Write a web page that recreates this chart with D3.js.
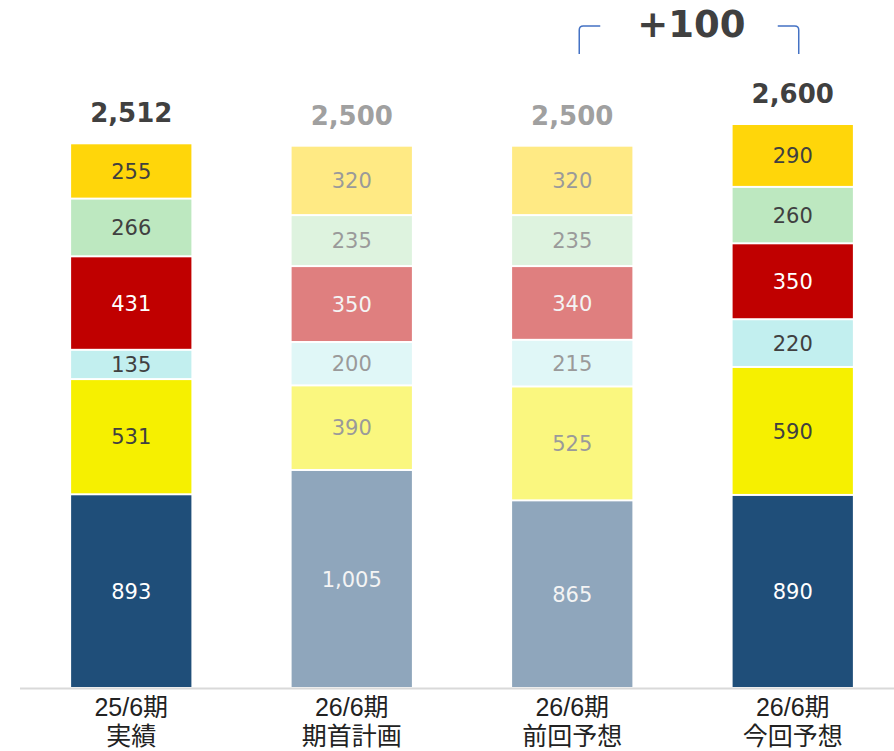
<!DOCTYPE html>
<meta charset="utf-8">
<script src="https://cdn.jsdelivr.net/npm/d3@7"></script>
<style>
    body { margin: 0; background: #fff; }
</style>
<div id="base"></div>
<script>
    // categories (two-line labels) and which bars are faded
    var line1 = ["25/6期", "26/6期", "26/6期", "26/6期"];
    var line2 = ["実績", "期首計画", "前回予想", "今回予想"];
    var faded = [false, true, true, false];

    // series, bottom to top
    var navy = [893, 1005, 865, 890];
    var yellow = [531, 390, 525, 590];
    var cyan = [135, 200, 215, 220];
    var red = [431, 350, 340, 350];
    var green = [266, 235, 235, 260];
    var gold = [255, 320, 320, 290];
    var totals = [2512, 2500, 2500, 2600];

    var series = [
        { vals: navy, color: "#1F4E79", dark: true },
        { vals: yellow, color: "#F6F000", dark: false },
        { vals: cyan, color: "#C2EFEF", dark: false },
        { vals: red, color: "#C00000", dark: true },
        { vals: green, color: "#BDE8C0", dark: false },
        { vals: gold, color: "#FFD60A", dark: false }
    ];

    var width = 894, height = 751;
    var numFont = "'DejaVu Sans', Verdana, sans-serif";
    var jpFont = "'Liberation Sans', 'Noto Sans CJK JP', sans-serif";

    var svg = d3.select("#base")
        .append("svg")
        .attr("width", width)
        .attr("height", height);

    var x = d3.scaleBand()
        .domain(d3.range(line1.length))
        .range([21, 903])
        .paddingInner(0.4545)
        .paddingOuter(0.2273);

    var y = d3.scaleLinear()
        .domain([0, 2600])
        .range([688, 124]);

    // stacked segments
    var fmt = d3.format(",");
    line1.forEach(function (c, i) {
        var base = 0;
        series.forEach(function (s) {
            var v = s.vals[i];
            var y0 = y(base), y1 = y(base + v);
            svg.append("rect")
                .attr("x", x(i))
                .attr("y", y1 + 1)
                .attr("width", x.bandwidth())
                .attr("height", y0 - y1 - 2)
                .attr("fill", s.color)
                .attr("fill-opacity", faded[i] ? 0.5 : 1);
            var col;
            if (s.dark) col = faded[i] ? "#f4f4f4" : "#ffffff";
            else col = faded[i] ? "#9a9a9a" : "#404040";
            svg.append("text")
                .attr("x", x(i) + x.bandwidth() / 2)
                .attr("y", (y0 + y1) / 2)
                .attr("dy", "0.36em")
                .attr("text-anchor", "middle")
                .attr("font-family", numFont)
                .attr("font-size", 21)
                .attr("fill", col)
                .text(fmt(v));
            base += v;
        });

        // total above bar
        svg.append("text")
            .attr("x", x(i) + x.bandwidth() / 2)
            .attr("y", y(totals[i]) - 21)
            .attr("text-anchor", "middle")
            .attr("font-family", numFont)
            .attr("font-weight", "bold")
            .attr("font-size", 26)
            .attr("fill", faded[i] ? "#a0a0a0" : "#404040")
            .text(fmt(totals[i]));

        // category label, two lines
        var cx = x(i) + x.bandwidth() / 2;
        svg.append("text")
            .attr("x", cx)
            .attr("y", 716)
            .attr("text-anchor", "middle")
            .attr("font-family", jpFont)
            .attr("font-size", 25)
            .attr("fill", "#222")
            .text(c);
        svg.append("text")
            .attr("x", cx)
            .attr("y", 745)
            .attr("text-anchor", "middle")
            .attr("font-family", jpFont)
            .attr("font-size", 25)
            .attr("fill", "#222")
            .text(line2[i]);
    });

    // baseline
    svg.append("line")
        .attr("x1", 20).attr("x2", 894)
        .attr("y1", y(0) + 0.5).attr("y2", y(0) + 0.5)
        .attr("stroke", "#d9d9d9")
        .attr("stroke-width", 2);

    // +100 annotation with brackets
    var xl = x(2) + x.bandwidth() / 2, xr = x(3) + x.bandwidth() / 2;
    svg.append("path")
        .attr("d", "M" + (xl + 7) + ",54 V30 Q" + (xl + 7) + ",26 " + (xl + 11) + ",26 H" + (xl + 28))
        .attr("fill", "none")
        .attr("stroke", "#4472C4")
        .attr("stroke-width", 1.5);
    svg.append("path")
        .attr("d", "M" + (xr - 15) + ",26 H" + (xr + 2) + " Q" + (xr + 6) + ",26 " + (xr + 6) + ",30 V54")
        .attr("fill", "none")
        .attr("stroke", "#4472C4")
        .attr("stroke-width", 1.5);
    svg.append("text")
        .attr("x", (xl + xr) / 2 + 9)
        .attr("y", 37)
        .attr("text-anchor", "middle")
        .attr("font-family", numFont)
        .attr("font-weight", "bold")
        .attr("font-size", 37)
        .attr("fill", "#404040")
        .text("+100");
</script>
